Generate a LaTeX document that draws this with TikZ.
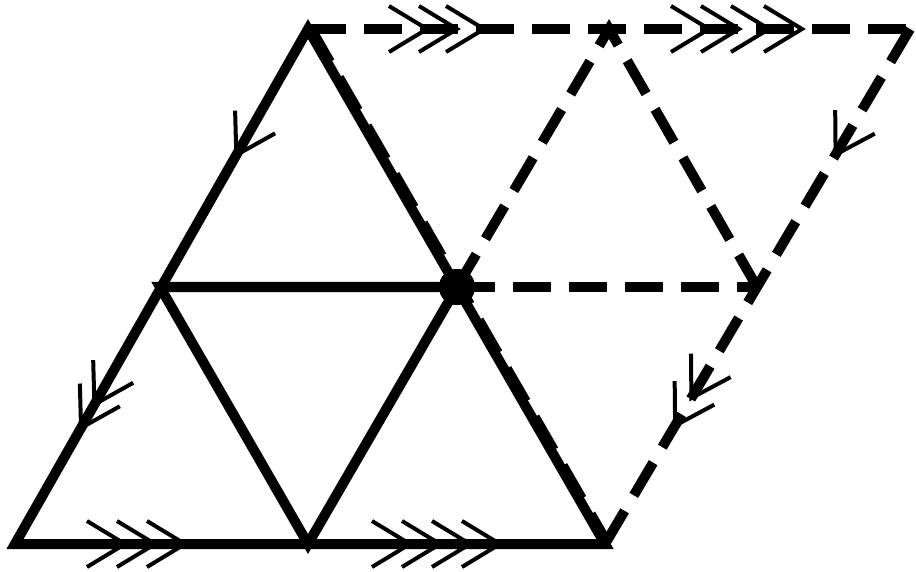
\documentclass[tikz,border=0pt]{standalone}
\usetikzlibrary{decorations.markings}
\newcommand\mychev{\draw[solid,line width=4pt,line cap=butt] (-38pt,23pt) -- (0pt,0pt) -- (-38pt,-23pt);}
\begin{document}
\begin{tikzpicture}[x=1pt,y=-1pt,
  edge/.style={line width=10pt, line join=miter},
  dashedge/.style={line width=10pt, dash pattern=on 38pt off 18pt},
  dotstyle/.style={circle, fill=black, inner sep=0pt, minimum size=36pt}]
\useasboundingbox (0,0) rectangle (916,572);
% vertices
\coordinate (A) at (15,544);
\coordinate (B) at (308,29);
\coordinate (C) at (605,544);
\coordinate (L) at (160,287);
\coordinate (M) at (308,544);
\coordinate (G) at (609,29);
\coordinate (F) at (910,29);
\coordinate (E) at (757,287);
\node[dotstyle] (R) at (457,287) {};
% dashed part
\draw[dashedge] (B) -- (G) -- (F);
\draw[dashedge] (R.center) -- (G) -- (E);
\draw[dashedge] (R.center) -- (E);
\draw[dashedge] (F) -- (E) -- (C);
\draw[dashedge] ([xshift=3pt]B) -- ([xshift=3pt]C);
% arrows on dashed edges
\path[decoration={markings,
   mark=at position 119pt with {\mychev},
   mark=at position 149pt with {\mychev},
   mark=at position 176pt with {\mychev},
   mark=at position 401pt with {\mychev},
   mark=at position 431pt with {\mychev},
   mark=at position 461pt with {\mychev},
   mark=at position 494pt with {\mychev}}, decorate] (B) -- (F);
\path[decoration={markings,
   mark=at position 146pt with {\mychev},
   mark=at position 429pt with {\mychev},
   mark=at position 461pt with {\mychev}}, decorate] (F) -- (C);
% solid triangle
\draw[edge] (A) -- (B) -- (C) -- cycle;
\draw[edge] (L) -- (R.center) -- (M) -- cycle;
% arrows on solid edges
\path[decoration={markings,
   mark=at position 145pt with {\mychev},
   mark=at position 432pt with {\mychev},
   mark=at position 459pt with {\mychev}}, decorate] (B) -- (A);
\path[decoration={markings,
   mark=at position 110pt with {\mychev},
   mark=at position 140pt with {\mychev},
   mark=at position 170pt with {\mychev},
   mark=at position 395pt with {\mychev},
   mark=at position 425pt with {\mychev},
   mark=at position 455pt with {\mychev},
   mark=at position 485pt with {\mychev}}, decorate] (A) -- (C);
\node[dotstyle] at (R) {};
\end{tikzpicture}
\end{document}
